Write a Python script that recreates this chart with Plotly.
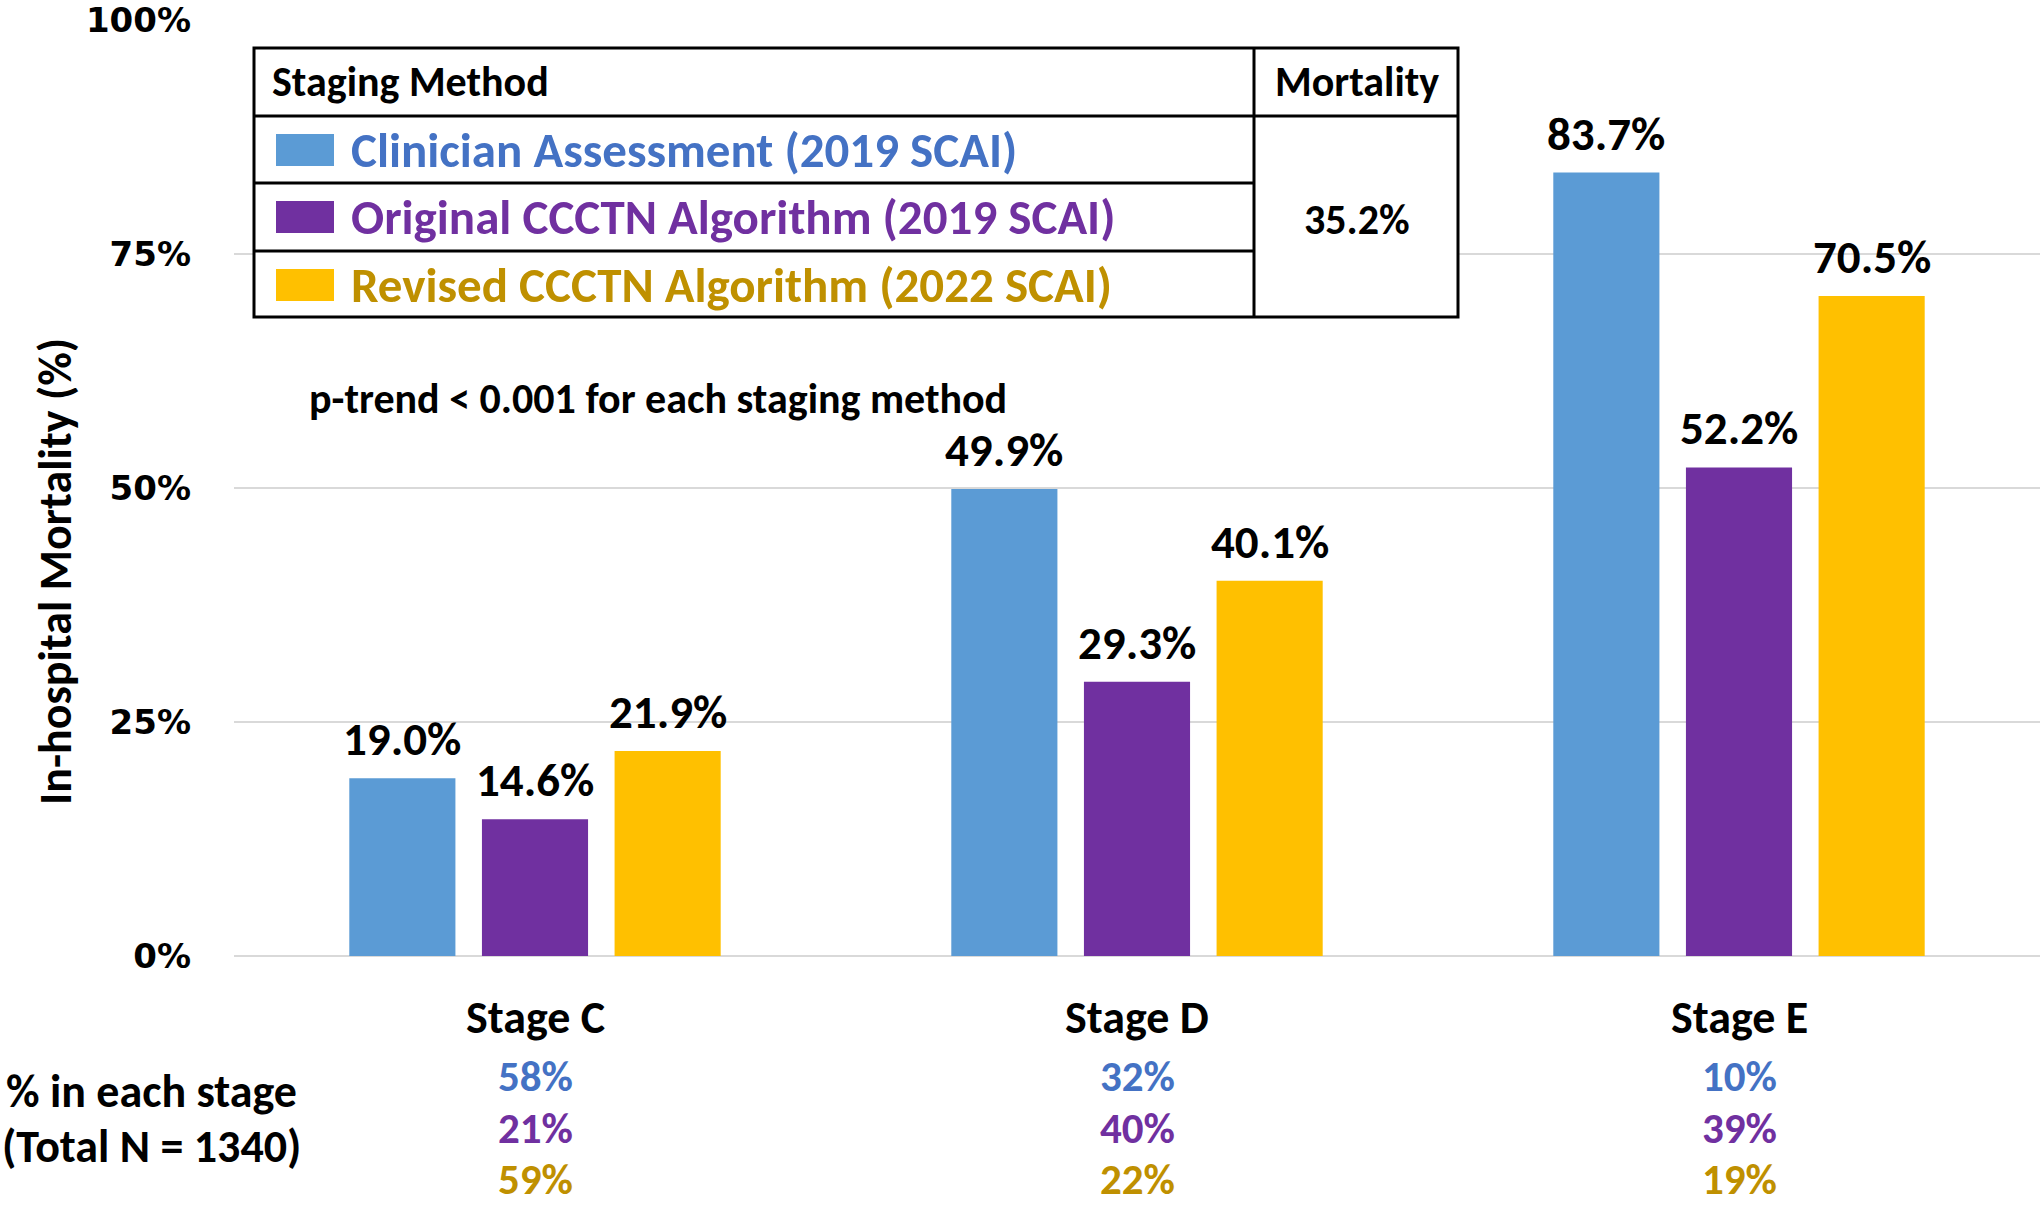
import plotly.graph_objects as go

# ---------------- data ----------------
stages = ["Stage C", "Stage D", "Stage E"]
methods = ["Clinician Assessment (2019 SCAI)",
           "Original CCCTN Algorithm (2019 SCAI)",
           "Revised CCCTN Algorithm (2022 SCAI)"]
mortality_clinician = [19.0, 49.9, 83.7]
mortality_original = [14.6, 29.3, 52.2]
mortality_revised = [21.9, 40.1, 70.5]
pct_clinician = [58, 32, 10]
pct_original = [21, 40, 39]
pct_revised = [59, 22, 19]
overall_mortality = "35.2%"
y_ticks = [0, 25, 50, 75, 100]
y_ticklabels = ["0%", "25%", "50%", "75%", "100%"]

# ---------------- style ----------------
W, H = 2040, 1205
L, R, T, B = 234, 0, 20, 249
BARGAP, GROUPGAP = 0.339, 0.2
bar_colors = ["#5B9BD5", "#7030A0", "#FFC000"]
text_colors = ["#4472C4", "#7030A0", "#BF9000"]
CAL = "Carlito, Lato, sans-serif"
VER = "DejaVu Sans, Verdana, sans-serif"

def px(x):
    return (x - L) / (W - L - R)

def py(y):
    return (H - B - y) / (H - B - T)

fig = go.Figure()
series = [mortality_clinician, mortality_original, mortality_revised]
annotations = []
slot = (1 - BARGAP) / len(series)
for j, (name, vals, col) in enumerate(zip(methods, series, bar_colors)):
    fig.add_trace(go.Bar(
        x=stages, y=vals, name=name, marker=dict(color=col, line=dict(width=0)),
        showlegend=False, hoverinfo="x+y+name",
    ))
    # value labels above each bar
    for i, v in enumerate(vals):
        annotations.append(dict(x=i + (j - (len(series) - 1) / 2) * slot, xref="x", y=v, yref="y",
                                text="<b>%.1f%%</b>" % v, showarrow=False, yanchor="bottom",
                                xanchor="center", yshift=8,
                                font=dict(family=CAL, size=47, color="black")))

# stage labels
for s in stages:
    annotations.append(dict(x=s, xref="x", y=py(1017), yref="paper", text="<b>%s</b>" % s,
                            showarrow=False, font=dict(family=CAL, size=46, color="black"),
                            xanchor="center", yanchor="middle"))
# percentages in each stage
for vals, col, yy in zip([pct_clinician, pct_original, pct_revised], text_colors, [1076, 1128, 1179]):
    for s, v in zip(stages, vals):
        annotations.append(dict(x=s, xref="x", y=py(yy), yref="paper", text="<b>%d%%</b>" % v,
                                showarrow=False, font=dict(family=CAL, size=43, color=col),
                                xanchor="center", yanchor="middle", borderpad=0))
annotations.append(dict(x=px(4), xref="paper", y=py(1091), yref="paper", text="<b>% in each stage</b>",
                        showarrow=False, font=dict(family=CAL, size=46, color="black"),
                        xanchor="left", yanchor="middle"))
annotations.append(dict(x=px(0), xref="paper", y=py(1146), yref="paper", text="<b>(Total N = 1340)</b>",
                        showarrow=False, font=dict(family=CAL, size=46, color="black"),
                        xanchor="left", yanchor="middle"))
# y-axis title
annotations.append(dict(x=px(55), xref="paper", y=py(572), yref="paper", text="<b>In-hospital Mortality (%)</b>",
                        showarrow=False, textangle=-90, font=dict(family=CAL, size=46, color="black"),
                        xanchor="center", yanchor="middle"))
# p-trend
annotations.append(dict(x=px(307), xref="paper", y=py(398), yref="paper",
                        text="<b>p-trend < 0.001 for each staging method</b>",
                        showarrow=False, font=dict(family=CAL, size=42, color="black"),
                        xanchor="left", yanchor="middle"))

# legend table
shapes = []
tx0, tx1, tcol, ty0, ty1 = 254, 1458, 1254, 48, 317
lw = 3
def line(x0, y0, x1, y1):
    shapes.append(dict(type="line", xref="paper", yref="paper", x0=px(x0), y0=py(y0), x1=px(x1), y1=py(y1),
                       line=dict(color="black", width=lw)))
shapes.append(dict(type="rect", xref="paper", yref="paper", x0=px(tx0), y0=py(ty0), x1=px(tx1), y1=py(ty1),
                   line=dict(color="black", width=lw), fillcolor="white", layer="above"))
line(tcol, ty0, tcol, ty1)
line(tx0, 116, tx1, 116)
line(tx0, 183, tcol, 183)
line(tx0, 251, tcol, 251)
annotations.append(dict(x=px(270), xref="paper", y=py(82), yref="paper", text="<b>Staging Method</b>",
                        showarrow=False, font=dict(family=CAL, size=42, color="black"),
                        xanchor="left", yanchor="middle"))
annotations.append(dict(x=px(1357), xref="paper", y=py(82), yref="paper", text="<b>Mortality</b>",
                        showarrow=False, font=dict(family=CAL, size=42, color="black"),
                        xanchor="center", yanchor="middle"))
annotations.append(dict(x=px(1357), xref="paper", y=py(219), yref="paper", text="<b>%s</b>" % overall_mortality,
                        showarrow=False, font=dict(family=CAL, size=42, color="black"),
                        xanchor="center", yanchor="middle"))
for name, bc, tc, yc in zip(methods, bar_colors, text_colors, [150, 217, 285]):
    shapes.append(dict(type="rect", xref="paper", yref="paper", x0=px(276), x1=px(334),
                       y0=py(yc - 16), y1=py(yc + 16), fillcolor=bc, line=dict(width=0), layer="above"))
    annotations.append(dict(x=px(349), xref="paper", y=py(yc), yref="paper", text="<b>%s</b>" % name,
                            showarrow=False, font=dict(family=CAL, size=49, color=tc),
                            xanchor="left", yanchor="middle"))

fig.update_layout(
    width=W, height=H, margin=dict(l=L, r=R, t=T, b=B),
    paper_bgcolor="white", plot_bgcolor="white",
    barmode="group", bargap=BARGAP, bargroupgap=GROUPGAP,
    xaxis=dict(showticklabels=False, showline=False, showgrid=False, zeroline=False, ticks=""),
    yaxis=dict(range=[0, 100], tickvals=y_ticks, ticktext=y_ticklabels, showgrid=True,
               gridcolor="#D9D9D9", gridwidth=2, zeroline=True, zerolinecolor="#D9D9D9", zerolinewidth=2,
               showline=False, ticks="", ticklabelstandoff=42, ticklabeloverflow="allow",
               tickfont=dict(family=VER, size=34, color="black", weight="bold")),
    annotations=annotations, shapes=shapes,
)
fig.write_html("out.html", config={"displayModeBar": False},
               post_script="document.body.style.margin='0';document.body.style.overflow='hidden';")
